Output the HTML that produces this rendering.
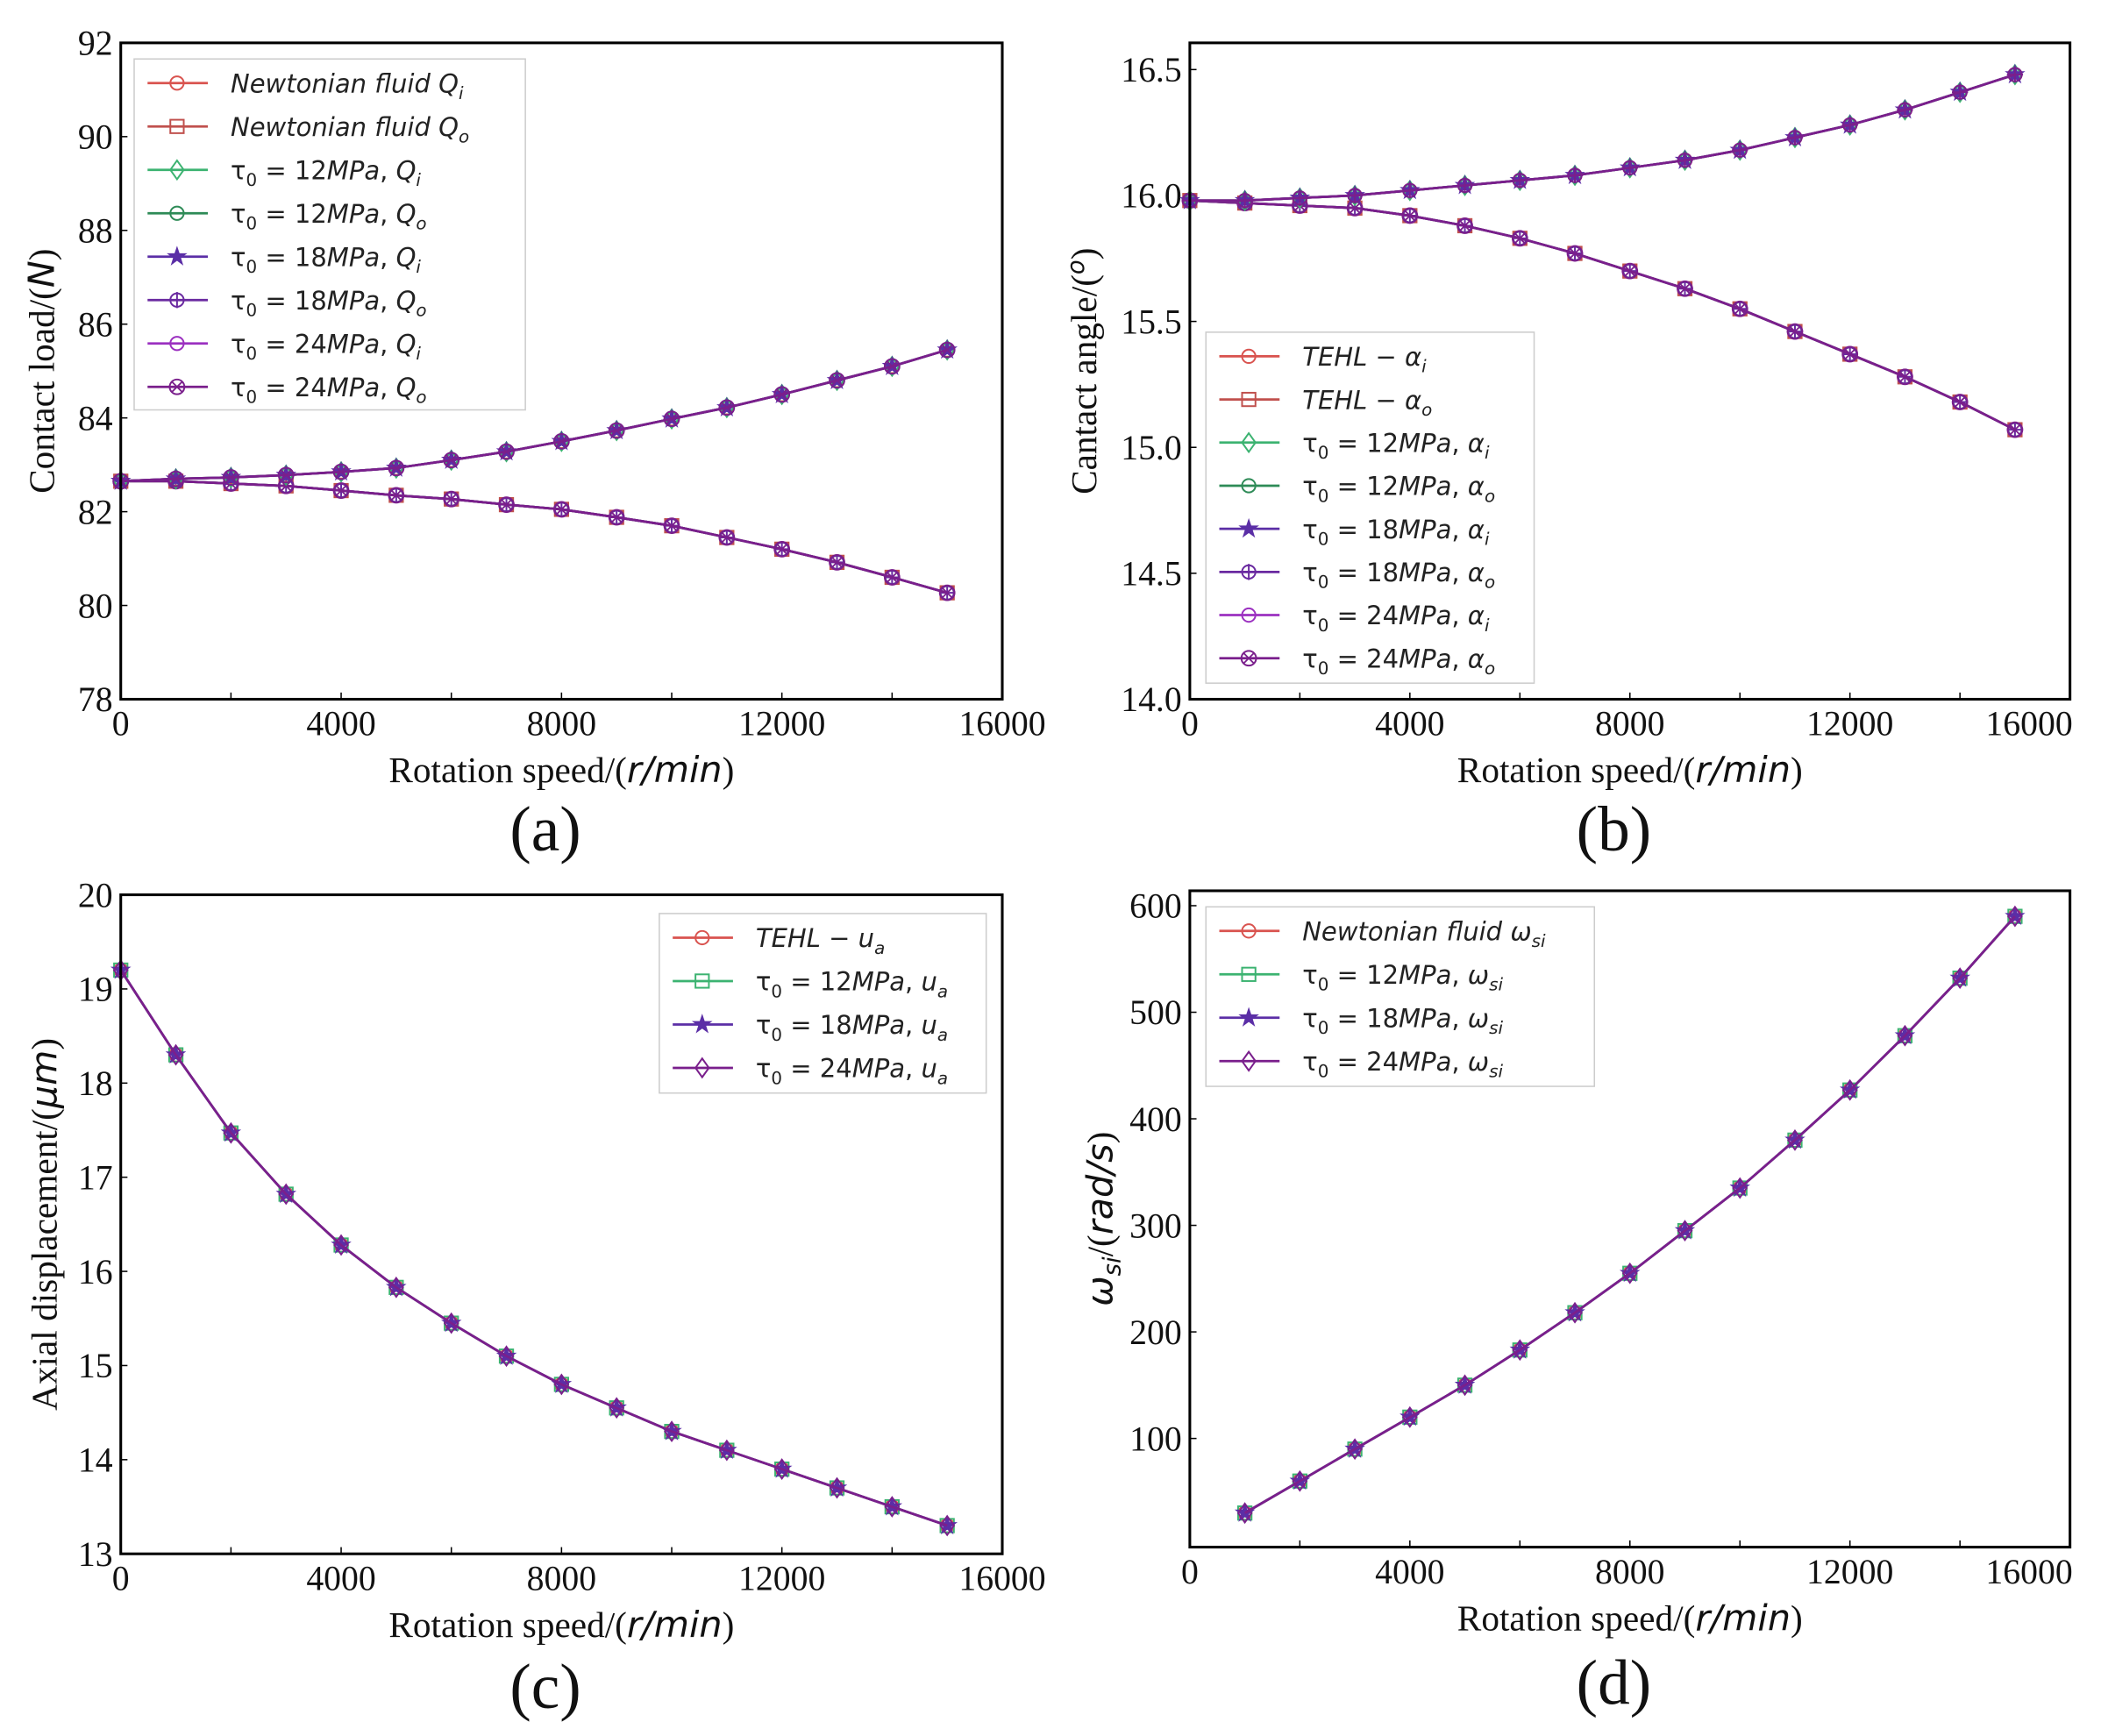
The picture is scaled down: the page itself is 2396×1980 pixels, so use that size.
<!DOCTYPE html>
<html><head><meta charset="utf-8"><style>
html,body{margin:0;padding:0;background:#fff;}
svg{display:block;}
.tk{font-family:"Liberation Serif",serif;font-size:26px;fill:#111;}
.ttl{font-family:"Liberation Serif",serif;font-size:27px;fill:#111;}
.it{font-family:"DejaVu Sans",sans-serif;font-style:italic;}
.lg{font-family:"DejaVu Sans",sans-serif;font-size:19px;fill:#222;}
.pl{font-family:"Liberation Serif",serif;font-size:48px;fill:#111;}
</style></head><body>
<svg id="fig" width="2396" height="1980" viewBox="0 0 1568 1296" xmlns="http://www.w3.org/2000/svg"></svg>
<script>
// ---- data ----
const speedsA = [0,1000,2000,3000,4000,5000,6000,7000,8000,9000,10000,11000,12000,13000,14000,15000];
const loadQi = [82.65,82.7,82.73,82.78,82.85,82.93,83.1,83.28,83.5,83.73,83.98,84.22,84.5,84.8,85.1,85.45];
const loadQo = [82.65,82.65,82.6,82.55,82.45,82.35,82.27,82.15,82.05,81.88,81.7,81.45,81.2,80.92,80.6,80.27];
const angleAi = [15.98,15.98,15.99,16.0,16.02,16.04,16.06,16.08,16.11,16.14,16.18,16.23,16.28,16.34,16.41,16.48];
const angleAo = [15.98,15.97,15.96,15.95,15.92,15.88,15.83,15.77,15.70,15.63,15.55,15.46,15.37,15.28,15.18,15.07];
const axialUa = [19.2,18.3,17.47,16.82,16.28,15.83,15.45,15.1,14.8,14.55,14.3,14.1,13.9,13.7,13.5,13.3];
const speedsD = [1000,2000,3000,4000,5000,6000,7000,8000,9000,10000,11000,12000,13000,14000,15000];
const omegaSi = [30,60,90,120,150,183,218,255,295,335,380,427,478,532,590];
const xTicks = [0,4000,8000,12000,16000];
const yTicksA = [78,80,82,84,86,88,90,92];
const yTicksB = [14.0,14.5,15.0,15.5,16.0,16.5];
const yTicksC = [13,14,15,16,17,18,19,20];
const yTicksD = [100,200,300,400,500,600];

const NS="http://www.w3.org/2000/svg";
const svg=document.getElementById('fig');
function mk(tag,attrs,parent,txt){const e=document.createElementNS(NS,tag);for(const k in attrs)e.setAttribute(k,attrs[k]);if(txt!==undefined)e.innerHTML=txt;(parent||svg).appendChild(e);return e;}

function marker(g,shape,x,y,col){
  const a={fill:'none',stroke:col,'stroke-width':1.3};
  let m;
  if(shape==='o'){m=mk('circle',Object.assign({cx:x,cy:y,r:5},a),g);}
  else if(shape==='s'){m=mk('rect',Object.assign({x:x-5,y:y-5,width:10,height:10},a),g);}
  else if(shape==='d'){m=mk('polygon',Object.assign({points:`${x},${y-7} ${x+5},${y} ${x},${y+7} ${x-5},${y}`},a),g);}
  else if(shape==='*'){let p=[];for(let i=0;i<10;i++){const r=i%2?2.5:6.5,t=-Math.PI/2+i*Math.PI/5;p.push((x+r*Math.cos(t)).toFixed(1)+','+(y+r*Math.sin(t)).toFixed(1));}m=mk('polygon',{points:p.join(' '),fill:col,stroke:col,'stroke-width':1},g);}
  else if(shape==='p'){m=mk('circle',Object.assign({cx:x,cy:y,r:5},a),g);mk('line',{x1:x-6,y1:y,x2:x+6,y2:y,stroke:col,'stroke-width':1.3},g);mk('line',{x1:x,y1:y-6,x2:x,y2:y+6,stroke:col,'stroke-width':1.3},g);}
  else if(shape==='h'){m=mk('circle',Object.assign({cx:x,cy:y,r:5.5},a),g);mk('line',{x1:x-4,y1:y-4,x2:x+4,y2:y+4,stroke:col,'stroke-width':1.2},g);mk('line',{x1:x-4,y1:y+4,x2:x+4,y2:y-4,stroke:col,'stroke-width':1.2},g);}
  
  
}

function panel(o){
  const g=mk('g',{},svg);
  
  
  const X=v=>o.x0+(v-o.xmin)/(o.xmax-o.xmin)*(o.x1-o.x0);
  const Y=v=>o.y1-(v-o.ymin)/(o.ymax-o.ymin)*(o.y1-o.y0);
  for(let v=0;v<=16000;v+=2000){const t=mk('line',{x1:X(v),x2:X(v),y1:o.y1,y2:o.y1-5,stroke:'#000','stroke-width':1},g);}
  xTicks.forEach((v,i)=>{const last=o.endLast&&i===xTicks.length-1;const t=mk('text',{x:last?X(v)+2:X(v),y:o.y1+27,'text-anchor':last?'end':'middle',class:'tk'},g,String(v));});
  o.yt.forEach(v=>{mk('line',{x1:o.x0,x2:o.x0+5,y1:Y(v),y2:Y(v),stroke:'#000','stroke-width':1},g);const t=mk('text',{x:o.x0-6,y:Y(v)+9,'text-anchor':'end',class:'tk'},g,o.fmt(v));});
  o.series.forEach(s=>{
    s.cols.forEach((col,ci)=>{
      const pts=s.xs.map((xv,i)=>X(xv).toFixed(1)+','+Y(s.ys[i]).toFixed(1)).join(' ');
      const l=mk('polyline',{points:pts,fill:'none',stroke:col,'stroke-width':1.8},g);
      
      
      s.xs.forEach((xv,i)=>marker(g,s.shapes[ci],X(xv),Y(s.ys[i]),col));
    });
  });
  const f=mk('rect',{x:o.x0,y:o.y0,width:o.x1-o.x0,height:o.y1-o.y0,fill:'none',stroke:'#000','stroke-width':2},g);
  
  const L=o.leg;
  const lb=mk('rect',{x:L.x,y:L.y,width:L.w,height:L.h,fill:'#fff',stroke:'#ccc','stroke-width':1},g);
  
  L.items.forEach((it,i)=>{
    const yy=L.y+18+i*L.dy;
    mk('line',{x1:L.x+10,x2:L.x+55,y1:yy,y2:yy,stroke:it[1],'stroke-width':1.8},g);
    marker(g,it[2],L.x+32,yy,it[1]);
    const t=mk('text',{x:L.x+72,y:yy+7,class:'lg'},g,it[0]);
    
  });
  const xt=mk('text',{x:(o.x0+o.x1)/2,y:o.y1+62,'text-anchor':'middle',class:'ttl'},g,o.xlabel);
  
  const yt=mk('text',{x:0,y:0,'text-anchor':'middle',class:'ttl',transform:`translate(${o.ylx},${(o.y0+o.y1)/2}) rotate(-90)`},g,o.ylabel);
  
  const pl=mk('text',{x:(o.x0+o.x1)/2-12,y:o.ply,'text-anchor':'middle',class:'pl'},g,o.pl);
  
}
const xl='Rotation speed/(<tspan class="it">r/min</tspan>)';
const tau=n=>`τ<tspan font-size="13" dy="5">0</tspan><tspan dy="-5"> = ${n}</tspan><tspan font-style="italic">MPa</tspan>, `;
const sub=(b,s)=>`<tspan font-style="italic">${b}</tspan><tspan font-size="13" dy="5" font-style="italic">${s}</tspan>`;
const C=['#d9534f','#c0504d','#3cb371','#2e8b57','#5b2ea6','#6a2aa0','#9b30c0','#7a1f8c'];
const fmt0=v=>String(v), fmt1=v=>v.toFixed(1);

panel({name:'panel-a',x0:90,x1:748,y0:32,y1:522,xmin:0,xmax:16000,ymin:78,ymax:92,yt:yTicksA,fmt:fmt0,
  series:[{xs:speedsA,ys:loadQo,cols:[C[1],C[3],C[5],C[7]],shapes:['s','o','p','h']},{xs:speedsA,ys:loadQi,cols:[C[0],C[2],C[4],C[7]],shapes:['o','d','*','h']}],
  leg:{x:100,y:44,w:292,h:262,dy:32.4,items:[
    ['<tspan font-style="italic">Newtonian fluid </tspan>'+sub('Q','i'),C[0],'o'],['<tspan font-style="italic">Newtonian fluid </tspan>'+sub('Q','o'),C[1],'s'],
    [tau(12)+sub('Q','i'),C[2],'d'],[tau(12)+sub('Q','o'),C[3],'o'],[tau(18)+sub('Q','i'),C[4],'*'],[tau(18)+sub('Q','o'),C[5],'p'],[tau(24)+sub('Q','i'),C[6],'o'],[tau(24)+sub('Q','o'),C[7],'h']]},
  xlabel:xl,ylabel:'Contact load/(<tspan class="it">N</tspan>)',ylx:40,ply:635,pl:'(a)'});

panel({name:'panel-b',x0:888,x1:1545,y0:32,y1:522,xmin:0,xmax:16000,ymin:14.0,ymax:16.606,yt:yTicksB,fmt:fmt1,endLast:true,
  series:[{xs:speedsA,ys:angleAo,cols:[C[1],C[3],C[5],C[7]],shapes:['s','o','p','h']},{xs:speedsA,ys:angleAi,cols:[C[0],C[2],C[4],C[7]],shapes:['o','d','*','p']}],
  leg:{x:900,y:248,w:245,h:262,dy:32.2,items:[
    ['<tspan font-style="italic">TEHL − α</tspan><tspan font-size="13" dy="5" font-style="italic">i</tspan>',C[0],'o'],['<tspan font-style="italic">TEHL − α</tspan><tspan font-size="13" dy="5" font-style="italic">o</tspan>',C[1],'s'],
    [tau(12)+sub('α','i'),C[2],'d'],[tau(12)+sub('α','o'),C[3],'o'],[tau(18)+sub('α','i'),C[4],'*'],[tau(18)+sub('α','o'),C[5],'p'],[tau(24)+sub('α','i'),C[6],'o'],[tau(24)+sub('α','o'),C[7],'h']]},
  xlabel:xl,ylabel:'Cantact angle/(<tspan class="it" font-size="18" dy="-9">o</tspan><tspan dy="9">)</tspan>',ylx:818,ply:635,pl:'(b)'});

panel({name:'panel-c',x0:90,x1:748,y0:668,y1:1160,xmin:0,xmax:16000,ymin:13,ymax:20,yt:yTicksC,fmt:fmt0,
  series:[{xs:speedsA,ys:axialUa,cols:[C[0],C[2],C[4],C[7]],shapes:['o','s','*','d']}],
  leg:{x:492,y:682,w:244,h:134,dy:32.4,items:[
    ['<tspan font-style="italic">TEHL − u</tspan><tspan font-size="13" dy="5" font-style="italic">a</tspan>',C[0],'o'],[tau(12)+sub('u','a'),C[2],'s'],[tau(18)+sub('u','a'),C[4],'*'],[tau(24)+sub('u','a'),C[7],'d']]},
  xlabel:xl,ylabel:'Axial displacement/(<tspan class="it">μm</tspan>)',ylx:42,ply:1275,pl:'(c)'});

panel({name:'panel-d',x0:888,x1:1545,y0:665,y1:1155,xmin:0,xmax:16000,ymin:-2,ymax:614,yt:yTicksD,fmt:fmt0,endLast:true,
  series:[{xs:speedsD,ys:omegaSi,cols:[C[0],C[2],C[4],C[7]],shapes:['o','s','*','d']}],
  leg:{x:900,y:677,w:290,h:134,dy:32.4,items:[
    ['<tspan font-style="italic">Newtonian fluid </tspan>'+sub('ω','si'),C[0],'o'],[tau(12)+sub('ω','si'),C[2],'s'],[tau(18)+sub('ω','si'),C[4],'*'],[tau(24)+sub('ω','si'),C[7],'d']]},
  xlabel:xl,ylabel:'<tspan class="it">ω</tspan><tspan font-size="18" dy="6" class="it">si</tspan><tspan dy="-6">/(</tspan><tspan class="it">rad/s</tspan>)',ylx:830,ply:1272,pl:'(d)'});
</script>
</body></html>
